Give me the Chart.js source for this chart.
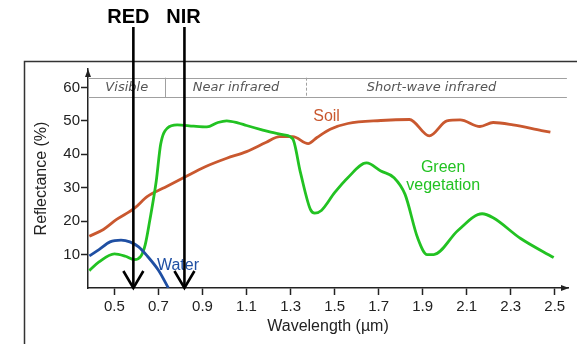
<!DOCTYPE html>
<html>
<head>
<meta charset="utf-8">
<script src="https://cdn.jsdelivr.net/npm/chart.js@4.4.0/dist/chart.umd.min.js"></script>
<style>
    html, body { margin: 0; padding: 0; background: #fff; }
    #wrap { width: 577px; height: 344px; position: relative; }
</style>
</head>
<body>
<div id="wrap"><canvas id="spectrum-chart"></canvas></div>
<script>
// Tick labels
const xTicks = [0.5, 0.7, 0.9, 1.1, 1.3, 1.5, 1.7, 1.9, 2.1, 2.3, 2.5];
const yTicks = [10, 20, 30, 40, 50, 60];

// Spectral bands along the top (edges in µm)
const bandNames = ['Visible', 'Near infrared', 'Short-wave infrared'];
const bandEdges = [0.38, 0.73, 1.37, 2.555];

// Marked sensor bands (µm)
const markerNames = ['RED', 'NIR'];
const markerWavelengths = [0.586, 0.818];

// Soil
const soilWavelength = [0.386, 0.45, 0.51, 0.59, 0.65, 0.72, 0.82, 0.91, 1.01, 1.10, 1.19, 1.25, 1.31, 1.38, 1.42, 1.48, 1.56, 1.71, 1.84, 1.93, 2.01, 2.07, 2.16, 2.22, 2.31, 2.44, 2.48];
const soilReflectance = [15.5, 17.5, 20.5, 23.8, 27.4, 29.8, 33.2, 36.2, 38.8, 40.8, 43.6, 45.3, 45.3, 43.2, 45.0, 47.5, 49.2, 50.1, 50.4, 45.5, 50.0, 50.3, 48.3, 49.5, 48.8, 47.1, 46.6];

// Green vegetation
const vegWavelength = [0.386, 0.43, 0.50, 0.55, 0.59, 0.62, 0.64, 0.66, 0.69, 0.71, 0.74, 0.785, 0.86, 0.92, 0.97, 1.01, 1.06, 1.10, 1.17, 1.21, 1.27, 1.31, 1.345, 1.39, 1.41, 1.44, 1.50, 1.56, 1.645, 1.71, 1.77, 1.82, 1.877, 1.92, 1.95, 2.06, 2.17, 2.22, 2.345, 2.495];
const vegReflectance = [5.2, 7.8, 10.2, 9.5, 8.5, 9.5, 13, 20, 32, 43, 47.8, 48.8, 48.4, 48.2, 49.5, 50.0, 49.4, 48.6, 47.3, 46.6, 45.8, 44.6, 34.5, 23.5, 22.4, 23.2, 28.5, 33, 37.4, 35, 33, 28, 15, 10, 10, 17.2, 22.2, 21, 14.8, 9.1];

// Water
const waterWavelength = [0.386, 0.43, 0.48, 0.53, 0.57, 0.61, 0.65, 0.70, 0.745];
const waterReflectance = [9.6, 11.5, 13.8, 14.3, 13.8, 12.3, 9.5, 5.3, 0];

const FONT = "'Liberation Sans', Arial, sans-serif";
const SOIL = '#c9582f';
const VEG = '#22c222';
const WATER = '#1f4fa3';

function toPoints(xs, ys) {
    return xs.map((x, i) => ({ x: x, y: ys[i] }));
}

function drawLine(ctx, x1, y1, x2, y2) {
    ctx.beginPath();
    ctx.moveTo(x1, y1);
    ctx.lineTo(x2, y2);
    ctx.stroke();
}

// Frame, band header, labels and arrows
const overlayPlugin = {
    id: 'overlay',
    beforeDatasetsDraw(chart) {
        const { ctx, chartArea } = chart;
        const x = chart.scales.x, y = chart.scales.y;
        ctx.save();

        // outer frame (runs off the right and bottom edges)
        ctx.strokeStyle = '#333';
        ctx.lineWidth = 1.5;
        ctx.strokeRect(24.5, 61.5, 700, 400);

        // band header rows
        const top = y.getPixelForValue(62.9);
        const bottom = y.getPixelForValue(57);
        const right = x.getPixelForValue(bandEdges[bandEdges.length - 1]);
        ctx.strokeStyle = '#a0a0a0';
        ctx.lineWidth = 1;
        drawLine(ctx, chartArea.left, Math.round(top) + 0.5, right, Math.round(top) + 0.5);
        drawLine(ctx, chartArea.left, Math.round(bottom) + 0.5, right, Math.round(bottom) + 0.5);
        const d1 = Math.round(x.getPixelForValue(bandEdges[1])) + 0.5;
        drawLine(ctx, d1, top, d1, bottom);
        const d2 = Math.round(x.getPixelForValue(bandEdges[2])) + 0.5;
        ctx.setLineDash([3, 2]);
        drawLine(ctx, d2, top, d2, bottom);
        ctx.setLineDash([]);

        ctx.fillStyle = '#555';
        ctx.font = "italic 13px 'DejaVu Sans', sans-serif";
        ctx.textAlign = 'center';
        ctx.textBaseline = 'middle';
        const midY = (top + bottom) / 2;
        ctx.fillText(bandNames[0], (chartArea.left + d1) / 2, midY);
        ctx.fillText(bandNames[1], (d1 + d2) / 2, midY);
        ctx.fillText(bandNames[2], x.getPixelForValue(1.94), midY);
        ctx.restore();
    },
    afterDatasetsDraw(chart) {
        const { ctx, chartArea } = chart;
        const x = chart.scales.x, y = chart.scales.y;
        ctx.save();

        // curve labels
        ctx.font = '16px ' + FONT;
        ctx.textBaseline = 'middle';
        ctx.textAlign = 'left';
        ctx.fillStyle = SOIL;
        ctx.fillText('Soil', x.getPixelForValue(1.403), y.getPixelForValue(51.4));
        ctx.fillStyle = WATER;
        ctx.fillText('Water', x.getPixelForValue(0.693), y.getPixelForValue(6.8));
        ctx.fillStyle = VEG;
        ctx.textAlign = 'center';
        ctx.fillText('Green', x.getPixelForValue(1.993), y.getPixelForValue(36.1));
        ctx.fillText('vegetation', x.getPixelForValue(1.993), y.getPixelForValue(30.7));

        // axis arrowheads
        ctx.fillStyle = '#222';
        const ax = chartArea.left, ay = chartArea.top;
        ctx.beginPath();
        ctx.moveTo(ax, ay);
        ctx.lineTo(ax - 3, ay + 8);
        ctx.lineTo(ax + 3, ay + 8);
        ctx.closePath();
        ctx.fill();
        const bx = chartArea.right, by = chartArea.bottom;
        ctx.beginPath();
        ctx.moveTo(bx + 1, by);
        ctx.lineTo(bx - 7, by - 3);
        ctx.lineTo(bx - 7, by + 3);
        ctx.closePath();
        ctx.fill();

        // RED / NIR arrows
        ctx.strokeStyle = '#000';
        ctx.fillStyle = '#000';
        ctx.lineWidth = 2.6;
        ctx.font = 'bold 20px ' + FONT;
        ctx.textAlign = 'center';
        const shift = [-5, -1];
        markerWavelengths.forEach((w, i) => {
            const px = x.getPixelForValue(w);
            const tip = y.getPixelForValue(0);
            drawLine(ctx, px, 27, px, tip);
            ctx.beginPath();
            ctx.moveTo(px - 10, tip - 17);
            ctx.lineTo(px, tip);
            ctx.lineTo(px + 10, tip - 17);
            ctx.stroke();
            ctx.fillText(markerNames[i], px + shift[i], 17);
        });
        ctx.restore();
    }
};

const lineStyle = {
    borderWidth: 2.8,
    pointRadius: 0,
    cubicInterpolationMode: 'monotone',
    fill: false
};

new Chart(document.getElementById('spectrum-chart'), {
    type: 'line',
    data: {
        datasets: [
            Object.assign({ label: 'Water', data: toPoints(waterWavelength, waterReflectance), borderColor: WATER }, lineStyle),
            Object.assign({ label: 'Green vegetation', data: toPoints(vegWavelength, vegReflectance), borderColor: VEG }, lineStyle),
            Object.assign({ label: 'Soil', data: toPoints(soilWavelength, soilReflectance), borderColor: SOIL }, lineStyle)
        ]
    },
    options: {
        responsive: true,
        maintainAspectRatio: false,
        animation: false,
        layout: { padding: { left: 0, top: 69, right: 9, bottom: 0 } },
        plugins: {
            legend: { display: false },
            tooltip: { enabled: false }
        },
        scales: {
            x: {
                type: 'linear',
                min: 0.38,
                max: 2.56,
                afterBuildTicks: (scale) => { scale.ticks = xTicks.map(v => ({ value: v })); },
                afterFit: (scale) => { scale.height = 56; },
                grid: { drawOnChartArea: false, tickLength: 7, tickColor: '#222', tickWidth: 1.5 },
                border: { color: '#222', width: 1.5 },
                ticks: {
                    color: '#222',
                    padding: 3,
                    maxRotation: 0,
                    font: { family: FONT, size: 15 },
                    callback: (v) => v.toFixed(1)
                },
                title: {
                    display: true,
                    text: 'Wavelength (µm)',
                    color: '#222',
                    font: { family: FONT, size: 16 },
                    padding: { top: 0, bottom: 8 }
                }
            },
            y: {
                min: 0,
                max: 65.5,
                afterBuildTicks: (scale) => { scale.ticks = yTicks.map(v => ({ value: v })); },
                afterFit: (scale) => { scale.width = 88; },
                grid: { drawOnChartArea: false, tickLength: 7, tickColor: '#222', tickWidth: 1.5 },
                border: { color: '#222', width: 1.5 },
                ticks: {
                    color: '#222',
                    padding: 1,
                    font: { family: FONT, size: 15 }
                },
                title: {
                    display: true,
                    text: 'Reflectance (%)',
                    color: '#222',
                    font: { family: FONT, size: 16 },
                    padding: { top: 32, bottom: 0 }
                }
            }
        }
    },
    plugins: [overlayPlugin]
});
</script>
</body>
</html>
